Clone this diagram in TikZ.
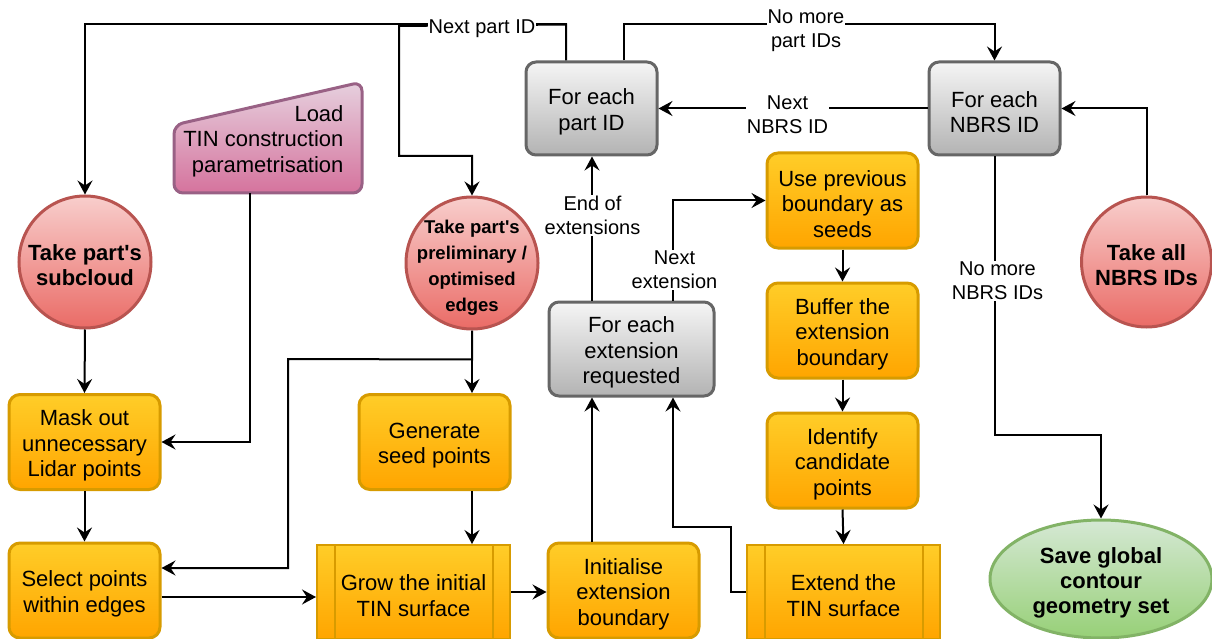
\documentclass[tikz,border=0pt]{standalone}
\usepackage{fontspec}
\setmainfont{Liberation Sans}[Ligatures=TeXOff]
\usetikzlibrary{arrows.meta,shapes.geometric}
\definecolor{grayTop}{HTML}{F5F5F5}
\definecolor{grayBot}{HTML}{B3B3B3}
\definecolor{grayLine}{HTML}{666666}
\definecolor{orgTop}{HTML}{FFCD28}
\definecolor{orgBot}{HTML}{FFA500}
\definecolor{orgLine}{HTML}{D79B00}
\definecolor{redTop}{HTML}{F8CECC}
\definecolor{redBot}{HTML}{EA6B66}
\definecolor{redLine}{HTML}{B85450}
\definecolor{pinkTop}{HTML}{E6D0DE}
\definecolor{pinkBot}{HTML}{D5739D}
\definecolor{pinkLine}{HTML}{996185}
\definecolor{grnTop}{HTML}{D5E8D4}
\definecolor{grnBot}{HTML}{97D077}
\definecolor{grnLine}{HTML}{82B366}
\begin{document}
\begin{tikzpicture}[x=1pt,y=-1pt,
  txt/.style={font=\fontsize{22}{25.5}\selectfont, align=center},
  ctext/.style={label={[txt, yshift=-3.5pt]center:{#1}}},
  btxt/.style={font=\fontsize{22}{25}\selectfont\bfseries, align=center, yshift=-3.5pt},
  graybox/.style={draw=grayLine, line width=3pt, rounded corners=10pt,
    top color=grayTop, bottom color=grayBot, minimum width=131pt, minimum height=93pt, inner sep=0pt},
  orgbox/.style={draw=orgLine, line width=3pt, rounded corners=11pt,
    top color=orgTop, bottom color=orgBot, minimum width=151pt, minimum height=95pt, inner sep=0pt},
  procbox/.style={draw=orgLine, line width=2pt,
    top color=orgTop, bottom color=orgBot, minimum width=193pt, minimum height=94pt, inner sep=0pt},
  procline/.style={draw=orgLine, line width=2pt},
  redcirc/.style={circle, draw=redLine, line width=3pt, top color=redTop, bottom color=redBot,
    minimum size=132pt, inner sep=0pt},
  grnell/.style={ellipse, draw=grnLine, line width=3pt, top color=grnTop, bottom color=grnBot,
    minimum width=222pt, minimum height=118pt, inner sep=0pt},
  lbl/.style={font=\fontsize{20}{24}\selectfont, align=center, fill=white, inner sep=1pt},
  conn/.style={line width=2pt, -{Stealth[length=14pt,width=15pt,inset=5pt]}}
]
\useasboundingbox (0,0) rectangle (1212,639);

% loop controllers
\node[graybox, ctext={For each\\part ID}] (partid) at (591.5,108.5) {};
\node[graybox, ctext={For each\\NBRS ID}] (nbrsid) at (994.5,108.5) {};
\node[graybox, minimum width=165pt, minimum height=94pt, ctext={For each\\extension\\requested}] (extreq) at (631.5,349) {};

% inputs
\node[redcirc] (subcloud) at (85,262) {};
\node[btxt] at (subcloud) {Take part's\\subcloud};
\node[redcirc] (edges) at (472,263) {};
\node[font=\fontsize{18.5}{26}\selectfont\bfseries, align=center, yshift=-5pt] at (edges) {Take part's\\preliminary /\\optimised\\edges};
\node[redcirc, minimum size=130pt] (takeall) at (1146.5,262) {};
\node[btxt] at (takeall) {Take all\\NBRS IDs};

% manual input: parametrisation
\shade[draw=pinkLine, line width=3pt, rounded corners=9pt, top color=pinkTop, bottom color=pinkBot]
  (174,125) -- (362,82) -- (362,193) -- (174,193) -- cycle;
\node[minimum width=188pt, minimum height=111pt, inner sep=0pt] (load) at (268,137.5) {};
\node[txt, align=right, anchor=east] at (347,141) {Load\\TIN construction\\parametrisation};

% processing steps
\node[orgbox, ctext={Mask out\\unnecessary\\Lidar points}] (mask) at (84.5,442) {};
\node[orgbox, ctext={Select points\\within edges}] (select) at (84.5,590.5) {};
\node[orgbox, ctext={Generate\\seed points}] (generate) at (434.5,442) {};
\node[orgbox, ctext={Initialise\\extension\\boundary}] (init) at (623.5,590.5) {};
\node[orgbox, ctext={Use previous\\boundary as\\seeds}] (useprev) at (842.5,200.5) {};
\node[orgbox, ctext={Buffer the\\extension\\boundary}] (buffer) at (842.5,330.5) {};
\node[orgbox, ctext={Identify\\candidate\\points}] (identify) at (842.5,460.5) {};
\node[procbox, ctext={Grow the initial\\TIN surface}] (grow) at (413.5,592) {};
\draw[procline] ([xshift=19pt]grow.north west) -- ([xshift=19pt]grow.south west);
\draw[procline] ([xshift=-18pt]grow.north east) -- ([xshift=-18pt]grow.south east);
\node[procbox, ctext={Extend the\\TIN surface}] (extend) at (843.5,592) {};
\draw[procline] ([xshift=19pt]extend.north west) -- ([xshift=19pt]extend.south west);
\draw[procline] ([xshift=-18pt]extend.north east) -- ([xshift=-18pt]extend.south east);

% output
\node[grnell] (save) at (1101,579) {};
\node[btxt] at (save) {Save global\\contour\\geometry set};

% connectors
\draw[conn] ([xshift=-25.5pt]partid.north) -- ++(0,-36) -| (subcloud.north);
\draw[conn] ([xshift=-25.5pt]partid.north) -- ++(0,-36) -- (399,26) -- (399,156) -| (edges.north);
\draw[conn] ([xshift=32.5pt]partid.north) -- ++(0,-36) -| (nbrsid.north);
\draw[conn] (nbrsid.west) -- (partid.east);
\draw[conn] (takeall.north) |- (nbrsid.east);
\draw[conn] (nbrsid.south) -- ++(0,278) -| (save.north);
\draw[conn] (subcloud.south) -- (mask.north);
\draw[conn] ([xshift=-18pt]load.south) |- (mask.east);
\draw[conn] (edges.south) -- (edges.south |- generate.north);
\draw[conn] (edges.south) -- ++(0,29) -- (288,359) |- ([yshift=22.5pt]select.east);
\draw[conn] (mask.south) -- (select.north);
\draw[conn] ([yshift=-6.5pt]select.east) -- ([yshift=-6.5pt]select.east -| grow.west);
\draw[conn] (edges.south |- generate.south) -- (edges.south |- grow.north);
\draw[conn] (grow.east) -- (grow.east -| init.west);
\draw[conn] ([xshift=-31.5pt]init.north) -- ([xshift=-31.5pt]init.north |- extreq.south);
\draw[conn] (extend.west) -- ++(-15,0) -- ++(0,-65) -| ([xshift=41.5pt]extreq.south);
\draw[conn] ([xshift=-39.5pt]extreq.north) -- ([xshift=-39.5pt]extreq.north |- partid.south);
\draw[conn] ([xshift=41.5pt]extreq.north) |- (useprev.west);
\draw[conn] (useprev.south) -- (buffer.north);
\draw[conn] (buffer.south) -- (identify.north);
\draw[conn] (identify.south) -- (extend.north);

% connector labels
\node[lbl] (lnextpart) at (482,28.5) {Next part ID};
\node[lbl] (lnomorepart) at (806,30.5) {No more\\part IDs};
\node[lbl] (lnextnbrs) at (787.5,114.5) {Next\\NBRS ID};
\node[lbl] (lnomorenbrs) at (997.5,281) {No more\\NBRS IDs};
\node[lbl] (lendext) at (592.5,215.5) {End of\\extensions};
\node[lbl] (lnextext) at (674.5,270) {Next\\extension};
\end{tikzpicture}
\end{document}
